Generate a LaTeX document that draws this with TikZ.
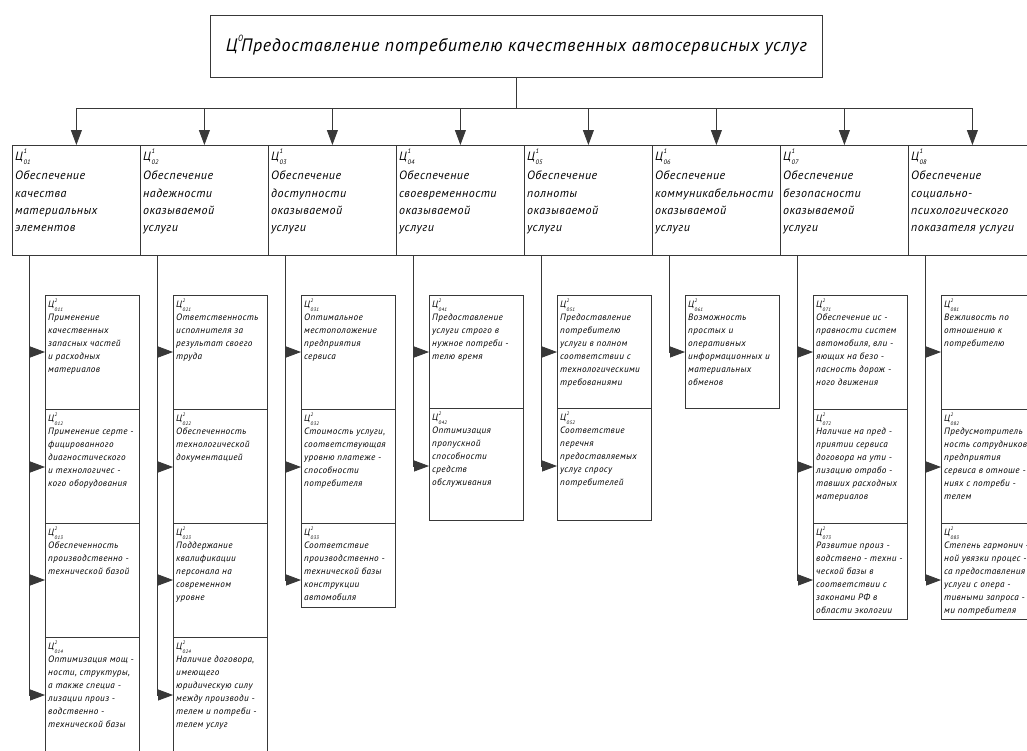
\documentclass[tikz,border=0pt]{standalone}
\usepackage{fontspec}
\newfontfamily\gost{PT Sans}[LetterSpace=4.0]
\usetikzlibrary{arrows.meta}

% goal symbol: Ц with level index above and code below
\newcommand\goal[3][6]{Ц\kern0.5pt\rlap{\raisebox{1.1ex}{\fontsize{#1}{#1}\selectfont#2}}\raisebox{-0.75ex}{\fontsize{#1}{#1}\selectfont#3}}

\tikzset{
  wire/.style={draw=black!78, line width=0.8pt},
  arr/.style={wire, -{Triangle[length=15pt,width=11pt]}},
  topbox/.style={wire, anchor=north west, inner sep=0, minimum width=612, minimum height=62,
    font=\gost\itshape\fontsize{18}{22}\selectfont},
  lbox/.style={wire, anchor=north west, inner sep=0, minimum width=128, minimum height=110},
  ltxt/.style={anchor=north west, inner sep=0, align=left,
    font=\gost\itshape\fontsize{12}{17.3}\selectfont},
  sbox/.style={wire, anchor=north west, inner sep=0, minimum width=94},
  stxt/.style={anchor=north west, inner sep=0, align=left,
    font=\gost\itshape\fontsize{9.2}{12.9}\selectfont},
}

% second-level goal: column, code, top, height, arrow level, text
\newcommand\subgoal[6]{%
  \pgfmathsetmacro\bx{12+128*(#1-1)}
  \node[sbox, minimum height=#4] (s#2) at (\bx+33,#3) {};
  \node[stxt] (st#2) at ([xshift=3pt,yshift=-4pt]s#2.north west) {\goal[5]{2}{#2}\\[0pt]#6};
  \coordinate (a#2) at (\bx+17,#5);
  \draw[arr] (a#2) -- (s#2.west |- a#2);
}

\begin{document}
\begin{tikzpicture}[x=1pt,y=-1pt]
\useasboundingbox (0,0) rectangle (1027,750);

% main goal
\node[topbox] (g0) at (210,15) {\goal[9]{0}{}\,Предоставление потребителю качественных автосервисных услуг};
\coordinate (busL) at (76,108);
\draw[wire] (g0.south) -- (g0.south |- busL);

% first-level goals
\foreach \i/\txt in {1/{качества\\материальных\\элементов},
                     2/{надежности\\оказываемой\\услуги},
                     3/{доступности\\оказываемой\\услуги},
                     4/{своевременности\\оказываемой\\услуги},
                     5/{полноты\\оказываемой\\услуги},
                     6/{коммуникабельности\\оказываемой\\услуги},
                     7/{безопасности\\оказываемой\\услуги},
                     8/{социально-\\психологического\\показателя услуги}} {
  \node[lbox] (b\i) at ({12+128*(\i-1)},145) {};
  \node[ltxt] (bt\i) at ([xshift=3pt,yshift=-4pt]b\i.north west) {\goal[6.5]{1}{0\i}\\[2pt]Обеспечение\\\txt};
  \draw[arr] (b\i.north |- busL) -- (b\i.north);
  \coordinate (v\i) at ([xshift=17pt]b\i.south west);
}
\draw[wire] (b1.north |- busL) -- (b8.north |- busL);

% second-level goals
\subgoal{1}{011}{295}{114}{352}{Применение\\качественных\\запасных частей\\и расходных\\материалов}
\subgoal{1}{012}{409}{114}{467}{Применение серте -\\фицированного\\диагностического\\и технологичес -\\кого оборудования}
\subgoal{1}{013}{523}{114}{580}{Обеспеченность\\производственно -\\технической базой}
\subgoal{1}{014}{637}{125}{695}{Оптимизация мощ -\\ности, структуры,\\а также специа -\\лизации произ -\\водственно -\\технической базы}

\subgoal{2}{021}{295}{114}{352}{Ответственность\\исполнителя за\\результат своего\\труда}
\subgoal{2}{022}{409}{114}{467}{Обеспеченность\\технологической\\документацией}
\subgoal{2}{023}{523}{114}{580}{Поддержание\\квалификации\\персонала на\\современном\\уровне}
\subgoal{2}{024}{637}{125}{695}{Наличие договора,\\имеющего\\юридическую силу\\между производи -\\телем и потреби -\\телем услуг}

\subgoal{3}{031}{295}{114}{352}{Оптимальное\\местоположение\\предприятия\\сервиса}
\subgoal{3}{032}{409}{114}{467}{Стоимость услуги,\\соответствующая\\уровню платеже -\\способности\\потребителя}
\subgoal{3}{033}{523}{84}{580}{Соответствие\\производственно -\\технической базы\\конструкции\\автомобиля}

\subgoal{4}{041}{295}{113}{352}{Предоставление\\услуги строго в\\нужное потреби -\\телю время}
\subgoal{4}{042}{408}{112}{466}{Оптимизация\\пропускной\\способности\\средств\\обслуживания}

\subgoal{5}{051}{295}{113}{352}{Предоставление\\потребителю\\услуги в полном\\соответствии с\\технологическими\\требованиями}
\subgoal{5}{052}{408}{112}{466}{Соответствие\\перечня\\предоставляемых\\услуг спросу\\потребителей}

\subgoal{6}{061}{295}{113}{352}{Возможность\\простых и\\оперативных\\информационных и\\материальных\\обменов}

\subgoal{7}{071}{295}{114}{352}{Обеспечение ис -\\правности систем\\автомобиля, вли -\\яющих на безо -\\пасность дорож -\\ного движения}
\subgoal{7}{072}{409}{114}{467}{Наличие на пред -\\приятии сервиса\\договора на ути -\\лизацию отрабо -\\тавших расходных\\материалов}
\subgoal{7}{073}{523}{96}{580}{Развитие произ -\\водствено - техни -\\ческой базы в\\соответствии с\\законами РФ в\\области экологии}

\subgoal{8}{081}{295}{114}{352}{Вежливость по\\отношению к\\потребителю}
\subgoal{8}{082}{409}{114}{467}{Предусмотритель\\ность сотрудников\\предприятия\\сервиса в отноше -\\ниях с потреби -\\телем}
\subgoal{8}{083}{523}{96}{580}{Степень гармонич -\\ной увязки процес -\\са предоставления\\услуги с опера -\\тивными запроса -\\ми потребителя}

% column feeders
\draw[wire] (v1) -- (a014);
\draw[wire] (v2) -- (a024);
\draw[wire] (v3) -- (a033);
\draw[wire] (v4) -- (a042);
\draw[wire] (v5) -- (a052);
\draw[wire] (v6) -- (a061);
\draw[wire] (v7) -- (a073);
\draw[wire] (v8) -- (a083);
\end{tikzpicture}
\end{document}
